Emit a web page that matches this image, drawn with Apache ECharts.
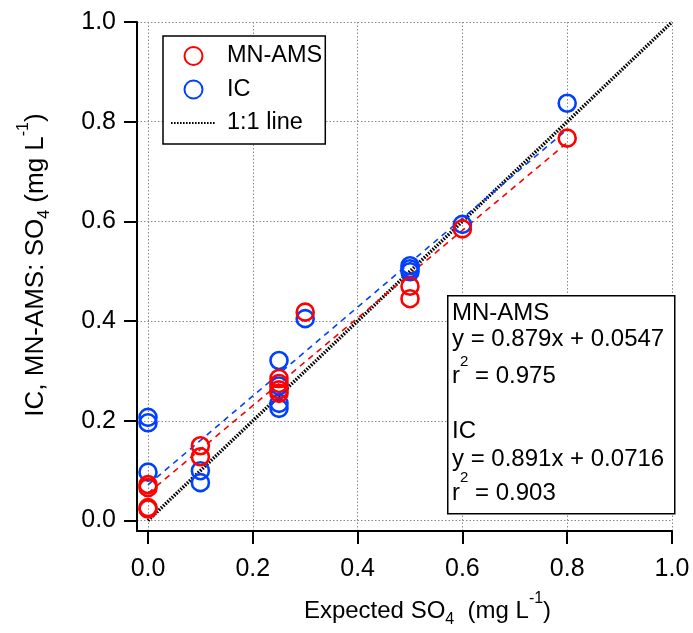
<!DOCTYPE html>
<html><head><meta charset="utf-8">
<script src="https://cdn.jsdelivr.net/npm/echarts@6/dist/echarts.min.js"></script>
<style>html,body{margin:0;padding:0;background:#fff}#c{width:693px;height:633px}</style>
</head><body><div id="c"></div>
<script>
const tickValues = [0, 0.2, 0.4, 0.6, 0.8, 1.0];
const amsExpected = [0, 0, 0, 0, 0.1, 0.1, 0.25, 0.25, 0.25, 0.25, 0.3, 0.5, 0.5, 0.6, 0.8];
const amsMeasured = [0.023, 0.026, 0.066, 0.072, 0.150, 0.128, 0.285, 0.275, 0.262, 0.255, 0.418, 0.470, 0.445, 0.585, 0.767];
const icExpected = [0, 0, 0, 0.1, 0.1, 0.25, 0.25, 0.25, 0.25, 0.3, 0.5, 0.5, 0.5, 0.6, 0.8];
const icMeasured = [0.207, 0.196, 0.097, 0.100, 0.076, 0.321, 0.270, 0.235, 0.225, 0.405, 0.511, 0.505, 0.499, 0.594, 0.837];
const fitNames = ['MN-AMS', 'IC'];
const fitSlopes = [0.879, 0.891];
const fitIntercepts = [0.0547, 0.0716];
const fitR2 = ['0.975', '0.903'];
const fitXRange = [0, 0.8];
const oneToOneRange = [0, 1];

const FONT = '"Liberation Sans", Arial, sans-serif';
const RED = '#ff0000', BLUE = '#0040ff';

function pairs(xs, ys) { return xs.map((x, i) => [x, ys[i]]); }
function fitLine(k) { return fitXRange.map(x => [x, fitSlopes[k] * x + fitIntercepts[k]]); }

const chart = echarts.init(document.getElementById('c'), null, {renderer: 'canvas'});

function richTitle(size) {
  return {
    t: {fontSize: size, fontFamily: FONT, color: '#000'},
    sub: {fontSize: 16, fontFamily: FONT, color: '#000', padding: [18, 0, 0, 0]},
    sup: {fontSize: 16, fontFamily: FONT, color: '#000', padding: [0, 0, 24, 0]}
  };
}

const axisCommon = {
  type: 'value',
  max: 1.0,
  axisLine: {show: true, onZero: false, lineStyle: {color: '#000', width: 2}},
  axisTick: {show: true, inside: false, length: 13, customValues: tickValues, lineStyle: {color: '#000', width: 2}},
  axisLabel: {customValues: tickValues, formatter: v => v.toFixed(1), fontSize: 25, fontFamily: FONT, color: '#000'},
  splitLine: {show: true, lineStyle: {color: '#888', width: 1, type: [1.5, 2]}},
  nameLocation: 'middle'
};

const annoLines = [
  {text: fitNames[0], y: 313},
  {text: 'y = ' + fitSlopes[0] + 'x + ' + fitIntercepts[0], y: 339},
  {text: 'r{sup|2} = ' + fitR2[0], y: 376.5},
  {text: fitNames[1], y: 431.5},
  {text: 'y = ' + fitSlopes[1] + 'x + ' + fitIntercepts[1], y: 459},
  {text: 'r{sup|2} = ' + fitR2[1], y: 493}
];

const option = {
  animation: false,
  backgroundColor: '#fff',
  grid: {left: 137, right: 21, top: 22, bottom: 102, containLabel: false, outerBoundsMode: 'none'},
  xAxis: Object.assign({}, axisCommon, {
    min: -0.021,
    axisLabel: Object.assign({}, axisCommon.axisLabel, {margin: 26}),
    name: '{t|Expected SO}{sub|4}{t|  (mg L}{sup|-1}{t|)}',
    nameGap: 60,
    nameTextStyle: {rich: richTitle(24), padding: [0, 0, 0, 46]}
  }),
  yAxis: Object.assign({}, axisCommon, {
    min: -0.021,
    axisLabel: Object.assign({}, axisCommon.axisLabel, {margin: 21}),
    name: '{t|IC, MN-AMS: SO}{sub|4}{t| (mg L}{sup|-1}{t|)}',
    nameGap: 81,
    nameTextStyle: {rich: richTitle(26), padding: [0, 0, 0, 23]}
  }),
  legend: {
    data: [
      {name: 'MN-AMS'},
      {name: 'IC'},
      {name: '1:1 line', itemStyle: {opacity: 0}}
    ],
    orient: 'vertical', left: 163, top: 36,
    padding: [8, 3, 9, 7],
    itemWidth: 45, itemHeight: 18, itemGap: 9.5,
    borderColor: '#000', borderWidth: 1.5, borderRadius: 0,
    backgroundColor: '#fff',
    textStyle: {fontSize: 23.5, fontFamily: FONT, color: '#000', padding: [0, 0, 0, 6]}
  },
  series: [
    {
      name: '1:1 line', type: 'line', data: pairs(oneToOneRange, oneToOneRange),
      symbol: 'none', showSymbol: false, z: 2,
      lineStyle: {color: '#000', width: 3.5, type: [1.6, 1.4]}, itemStyle: {color: '#000'}
    },
    {
      name: 'IC fit', type: 'line', data: fitLine(1), symbol: 'none', z: 2,
      lineStyle: {color: BLUE, width: 1.6, type: [6, 5]}
    },
    {
      name: 'MN-AMS fit', type: 'line', data: fitLine(0), symbol: 'none', z: 2,
      lineStyle: {color: RED, width: 1.6, type: [6, 5]}
    },
    {
      name: 'IC', type: 'scatter', data: pairs(icExpected, icMeasured),
      symbol: 'circle', symbolSize: 17, z: 3,
      itemStyle: {color: 'rgba(0,0,0,0)', borderColor: BLUE, borderWidth: 2.6, opacity: 1}
    },
    {
      name: 'MN-AMS', type: 'scatter', data: pairs(amsExpected, amsMeasured),
      symbol: 'circle', symbolSize: 17, z: 4,
      itemStyle: {color: 'rgba(0,0,0,0)', borderColor: RED, borderWidth: 2.6, opacity: 1}
    }
  ],
  graphic: [
    {
      type: 'rect', left: 447, top: 295, z: 10,
      shape: {width: 227, height: 218},
      style: {fill: '#fff', stroke: '#000', lineWidth: 1.5}
    }
  ].concat(annoLines.map(l => ({
    type: 'text', x: 452, y: l.y, z: 11,
    style: {
      text: l.text, fill: '#000', font: '24px ' + FONT, verticalAlign: 'middle', align: 'left',
      rich: {sup: {fontSize: 15, fontFamily: FONT, fill: '#000', padding: [0, 0, 30, 0]}}
    }
  })))
};
chart.setOption(option);
</script>
</body></html>
